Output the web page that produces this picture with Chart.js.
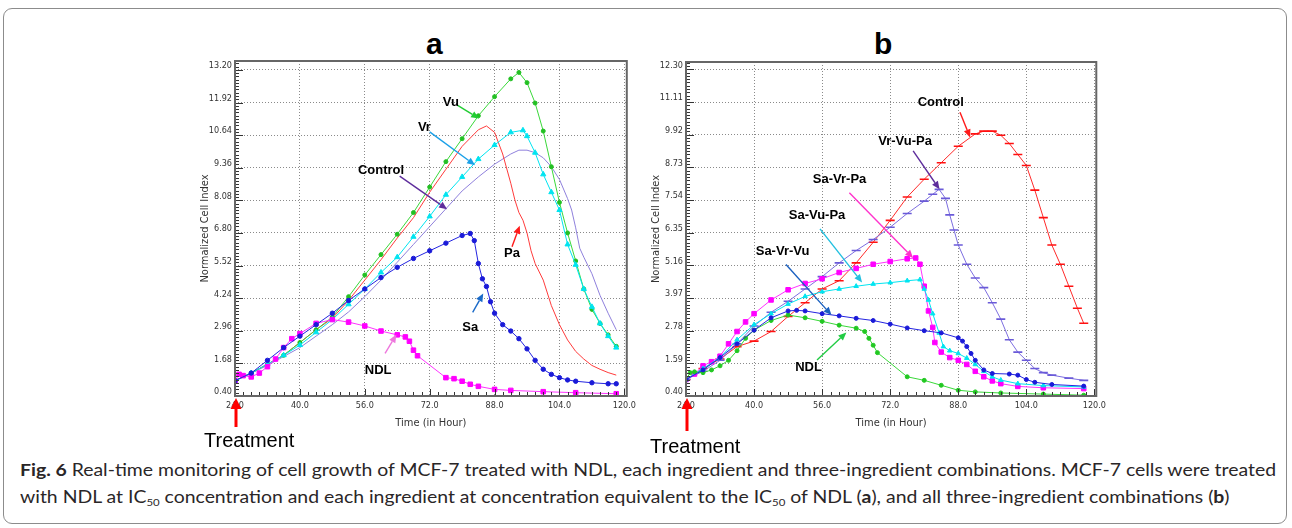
<!DOCTYPE html>
<html>
<head>
<meta charset="utf-8">
<script src="https://cdn.jsdelivr.net/npm/chart.js@4.4.1/dist/chart.umd.min.js"></script>
<style>
  body { margin: 0; width: 1292px; height: 528px; background: #fff; position: relative; overflow: hidden;
         font-family: "Liberation Sans", Arial, sans-serif; }
  .frame { position: absolute; left: 3px; top: 8px; width: 1284px; height: 516px;
           border: 1px solid #8c8c8c; border-radius: 9px; box-sizing: border-box; }
  .letter { position: absolute; top: 27px; font: bold 30px "Liberation Sans", Arial, sans-serif; color: #000; }
  canvas { position: absolute; }
  .treat { position: absolute; font: 20px "Liberation Sans", Arial, sans-serif; color: #000; line-height: 20px; }
  .caption { position: absolute; left: 20px; font-family: Lato, "Open Sans", sans-serif; font-size: 17px;
             color: #2a2627; white-space: nowrap; transform-origin: 0 50%; line-height: 20px; }
  .caption sub { font-size: 10px; vertical-align: -3px; line-height: 0; }
</style>
</head>
<body>
<div class="frame"></div>
<div class="letter" style="left:426px">a</div>
<div class="letter" style="left:874px">b</div>
<canvas id="panelA" width="470" height="400" style="left:170px; top:52px"></canvas>
<canvas id="panelB" width="490" height="400" style="left:620px; top:52px"></canvas>
<div class="treat" style="left:204px; top:430px">Treatment</div>
<div class="treat" style="left:650px; top:436px">Treatment</div>
<div class="caption" id="cap1" style="top:460px"><b>Fig. 6</b> Real-time monitoring of cell growth of MCF-7 treated with NDL, each ingredient and three-ingredient combinations. MCF-7 cells were treated</div>
<div class="caption" id="cap2" style="top:487px">with NDL at IC<sub>50</sub> concentration and each ingredient at concentration equivalent to the IC<sub>50</sub> of NDL (<b>a</b>), and all three-ingredient combinations (<b>b</b>)</div>

<script>
// ---------------- PANEL A DATA (hours after seeding, normalized cell index) ----------------
const aXTicks = [24, 40, 56, 72, 88, 104, 120];
const aYTicks = [0.40, 1.68, 2.96, 4.24, 5.52, 6.80, 8.08, 9.36, 10.64, 11.92, 13.20];

const aVuHours = [24, 28, 32, 36, 40, 44, 48, 52, 56, 60, 64, 68, 72, 76, 80, 84, 88, 92, 94, 96, 98, 100, 102, 104, 106, 108, 110, 112, 114, 116, 118];
const aVuIndex = [1.0, 1.3, 1.65, 2.0, 2.5, 3.0, 3.5, 4.3, 5.15, 5.95, 6.75, 7.6, 8.6, 9.6, 10.5, 11.4, 12.15, 12.85, 13.1, 12.7, 11.9, 10.8, 9.4, 8.0, 6.8, 5.7, 4.6, 3.8, 3.25, 2.8, 2.35];

const aVrHours = [24, 28, 32, 36, 40, 44, 48, 52, 56, 60, 64, 68, 72, 76, 80, 84, 88, 92, 95, 96, 98, 100, 102, 104, 106, 108, 110, 112, 114, 116, 118];
const aVrIndex = [1.0, 1.3, 1.65, 2.0, 2.4, 2.9, 3.4, 4.0, 4.6, 5.25, 5.85, 6.65, 7.45, 8.3, 9.0, 9.7, 10.25, 10.75, 10.83, 10.6, 9.95, 9.1, 8.4, 7.7, 6.35, 5.55, 4.6, 3.9, 3.25, 2.75, 2.3];

const aPaHours = [24, 28, 32, 36, 40, 44, 48, 52, 56, 60, 64, 68, 72, 76, 80, 84, 86, 88, 90, 92, 93, 94, 95, 96, 97, 98, 100, 102, 104, 106, 108, 110, 112, 114, 116, 118];
const aPaIndex = [1.0, 1.3, 1.65, 2.0, 2.5, 3.0, 3.45, 4.15, 4.95, 5.75, 6.6, 7.4, 8.4, 9.3, 10.2, 10.85, 11.0, 10.75, 9.9, 8.75, 8.1, 7.6, 7.3, 6.8, 6.1, 5.6, 4.95, 3.95, 3.2, 2.6, 2.15, 1.85, 1.6, 1.45, 1.32, 1.22];

const aControlHours = [24, 28, 32, 36, 40, 44, 48, 52, 56, 60, 64, 68, 72, 76, 80, 84, 88, 92, 94, 96, 98, 100, 102, 104, 106, 107, 108, 109, 110, 112, 114, 116, 118];
const aControlIndex = [1.0, 1.3, 1.6, 1.95, 2.3, 2.75, 3.2, 3.7, 4.3, 4.95, 5.65, 6.35, 7.05, 7.75, 8.45, 9.0, 9.5, 9.9, 10.05, 10.05, 9.95, 9.75, 9.4, 8.9, 8.15, 7.7, 7.0, 6.2, 5.85, 5.2, 4.35, 3.65, 3.0];

const aSaHours = [24, 28, 32, 36, 40, 44, 48, 52, 56, 60, 64, 68, 72, 76, 80, 82, 83, 84, 85, 86, 87, 88, 90, 92, 94, 96, 98, 100, 102, 104, 106, 108, 112, 116, 118];
const aSaIndex = [1.0, 1.3, 1.8, 2.3, 2.75, 3.2, 3.65, 4.15, 4.6, 5.05, 5.45, 5.8, 6.1, 6.4, 6.7, 6.78, 6.5, 5.6, 5.0, 4.7, 4.1, 3.65, 3.2, 2.95, 2.65, 2.25, 1.8, 1.45, 1.25, 1.12, 1.03, 0.98, 0.92, 0.88, 0.88];

const aNdlHours = [24, 25, 26, 28, 30, 32, 34, 36, 38, 40, 44, 48, 52, 56, 60, 64, 66, 67, 68, 69, 76, 78, 80, 82, 84, 88, 92, 100, 108, 118];
const aNdlIndex = [1.0, 1.25, 1.2, 1.15, 1.3, 1.55, 1.85, 2.3, 2.65, 2.85, 3.25, 3.4, 3.3, 3.15, 2.95, 2.8, 2.72, 2.55, 2.2, 1.98, 1.12, 1.08, 0.98, 0.86, 0.78, 0.66, 0.62, 0.57, 0.53, 0.49];

// ---------------- PANEL B DATA ----------------
const bXTicks = [24, 40, 56, 72, 88, 104, 120];
const bYTicks = [0.40, 1.59, 2.78, 3.97, 5.16, 6.35, 7.54, 8.73, 9.92, 11.11, 12.30];

const bControlHours = [24, 28, 32, 36, 40, 44, 48, 52, 56, 60, 64, 68, 72, 76, 80, 84, 88, 92, 94, 96, 98, 100, 102, 104, 106, 108, 110, 112, 114, 116, 117.5];
const bControlIndex = [1.0, 1.4, 1.75, 2.2, 2.4, 2.75, 3.3, 3.8, 4.3, 4.6, 5.25, 6.0, 6.8, 7.65, 8.3, 8.9, 9.5, 9.95, 10.05, 10.05, 9.9, 9.6, 9.2, 8.8, 7.9, 6.9, 5.9, 5.2, 4.4, 3.6, 3.05];

const bVrVuPaHours = [24, 28, 32, 36, 40, 44, 48, 52, 56, 60, 64, 68, 72, 76, 80, 82, 83.5, 85, 86, 87, 88, 90, 92, 94, 96, 98, 100, 102, 104, 106, 108, 110, 114, 117.5];
const bVrVuPaIndex = [1.0, 1.3, 1.7, 2.3, 2.95, 3.45, 3.85, 4.3, 4.75, 5.25, 5.7, 6.1, 6.55, 7.05, 7.5, 7.75, 7.93, 7.6, 7.0, 6.45, 5.9, 5.2, 4.7, 4.35, 3.8, 3.2, 2.45, 2.0, 1.7, 1.4, 1.25, 1.16, 1.05, 0.97];

const bSaVrPaHours = [24, 26, 28, 30, 32, 34, 36, 38, 40, 44, 48, 52, 56, 60, 64, 68, 72, 76, 78, 79, 80, 81, 82, 82.5, 84, 86, 88, 90, 92, 94, 96, 98, 102, 108, 117.5];
const bSaVrPaIndex = [1.0, 1.2, 1.5, 1.65, 1.85, 2.3, 2.75, 3.1, 3.4, 3.9, 4.27, 4.5, 4.67, 4.9, 5.05, 5.2, 5.3, 5.4, 5.43, 5.2, 4.4, 3.5, 2.9, 2.35, 2.0, 1.8, 1.7, 1.55, 1.3, 1.1, 0.95, 0.85, 0.75, 0.7, 0.67];

const bSaVuPaHours = [24, 28, 32, 36, 40, 44, 48, 52, 56, 60, 64, 68, 72, 76, 79, 80, 81, 82, 83.5, 84.5, 86, 88, 90, 92, 94, 96, 98, 102, 108, 117.5];
const bSaVuPaIndex = [1.0, 1.4, 1.8, 2.45, 3.0, 3.4, 3.75, 4.03, 4.2, 4.3, 4.4, 4.48, 4.53, 4.6, 4.64, 4.3, 3.9, 3.4, 2.7, 2.2, 2.05, 1.95, 1.78, 1.55, 1.3, 1.1, 0.98, 0.85, 0.78, 0.73];

const bSaVrVuHours = [24, 28, 32, 36, 40, 44, 48, 50, 52, 56, 60, 64, 68, 72, 76, 80, 84, 88, 89, 90, 91, 92, 94, 96, 100, 102, 104, 106, 110, 117.5];
const bSaVrVuIndex = [1.0, 1.35, 1.8, 2.3, 2.8, 3.25, 3.5, 3.52, 3.5, 3.4, 3.32, 3.23, 3.15, 3.02, 2.88, 2.78, 2.7, 2.52, 2.4, 2.2, 1.95, 1.7, 1.35, 1.22, 1.2, 1.16, 1.0, 0.9, 0.82, 0.76];

const bNdlHours = [24, 25, 26, 28, 30, 32, 34, 36, 38, 40, 44, 48, 52, 56, 60, 64, 66, 67, 68, 69, 76, 80, 84, 88, 92, 98, 108, 117.5];
const bNdlIndex = [1.0, 1.25, 1.28, 1.25, 1.35, 1.5, 1.7, 2.05, 2.5, 2.8, 3.15, 3.35, 3.25, 3.12, 2.98, 2.87, 2.75, 2.5, 2.25, 1.98, 1.1, 0.97, 0.79, 0.61, 0.55, 0.51, 0.47, 0.43];

// ---------------- ANNOTATIONS (label, where the label sits, arrow tail, arrow head) ----------------
const aNoteText  = ["Vu", "Vr", "Control", "Pa", "Sa", "NDL"];
const aNoteAt    = [[77.2, 11.93], [70.7, 10.96], [60.0, 9.27], [92.3, 5.98], [82.0, 3.11], [59.3, 1.41]];
const aNoteTail  = [[78.9, 11.81], [72.0, 10.77], [64.6, 9.03], [92.3, 6.26], [82.6, 3.68], [61.0, 2.07]];
const aNoteHead  = [[84.2, 11.29], [83.2, 9.46], [76.3, 7.73], [94.2, 7.08], [85.2, 4.42], [63.8, 2.81]];
const aNoteColor = ["#22cc33", "#1aa0e8", "#5e2d9c", "#ff1a1a", "#1a6ac8", "#ee77dd"];

const bNoteText  = ["Control", "Vr-Vu-Pa", "Sa-Vr-Pa", "Sa-Vu-Pa", "Sa-Vr-Vu", "NDL"];
const bNoteAt    = [[83.9, 11.11], [75.5, 9.66], [60.1, 8.30], [54.8, 6.99], [46.7, 5.67], [52.8, 1.44]];
const bNoteTail  = [[88.4, 10.74], [77.4, 9.33], [62.4, 7.81], [55.5, 6.49], [47.5, 5.19], [54.8, 1.71]];
const bNoteHead  = [[90.8, 9.82], [83.6, 7.93], [77.4, 5.43], [65.4, 4.54], [58.2, 3.35], [61.7, 2.71]];
const bNoteColor = ["#ff1a1a", "#5e2d9c", "#ff33cc", "#22c0e0", "#1a60c0", "#22cc44"];

// --------------------------------------------------
//  HELPERS
// --------------------------------------------------
const tickFont = { family: '"Liberation Sans Narrow", "DejaVu Sans Condensed", "Liberation Sans", Arial, sans-serif', size: 9 };

function series(label, hours, values, style) {
    return Object.assign({
        label: label,
        data: hours.map((h, i) => ({ x: h, y: values[i] })),
        borderWidth: 1,
        tension: 0,
        fill: false,
        pointBorderWidth: 1
    }, style);
}

function notes(text, at, tail, head, color) {
    return text.map((t, i) => ({ text: t, at: at[i], tail: tail[i], head: head[i], color: color[i] }));
}

function drawArrow(ctx, x1, y1, x2, y2, color, width, headLen, headHalf) {
    const ang = Math.atan2(y2 - y1, x2 - x1);
    const bx = x2 - headLen * Math.cos(ang), by = y2 - headLen * Math.sin(ang);
    ctx.strokeStyle = color;
    ctx.fillStyle = color;
    ctx.lineWidth = width;
    ctx.beginPath();
    ctx.moveTo(x1, y1);
    ctx.lineTo(bx, by);
    ctx.stroke();
    ctx.beginPath();
    ctx.moveTo(x2, y2);
    ctx.lineTo(bx + headHalf * Math.sin(ang), by - headHalf * Math.cos(ang));
    ctx.lineTo(bx - headHalf * Math.sin(ang), by + headHalf * Math.cos(ang));
    ctx.closePath();
    ctx.fill();
}

// frame, minor ticks, labels with arrows, treatment arrow
const rtcaDecor = {
    id: "rtcaDecor",
    afterDatasetsDraw(chart, args, opts) {
        const { ctx, chartArea: area, scales: { x, y } } = chart;
        ctx.save();

        // minor ticks along the axes
        ctx.strokeStyle = "#333";
        ctx.lineWidth = 1;
        ctx.beginPath();
        for (let k = 0; ; k++) {
            const t = x.min + k * 2;
            if (t > x.max) break;
            const px = Math.round(x.getPixelForValue(t)) + 0.5;
            ctx.moveTo(px, area.bottom);
            ctx.lineTo(px, area.bottom - (k % 8 === 0 ? 7 : 4));
        }
        const yStep = (opts.yTicks[1] - opts.yTicks[0]) / 10;
        for (let k = 0; ; k++) {
            const v = opts.yTicks[0] + k * yStep;
            if (v > y.max) break;
            const py = Math.round(y.getPixelForValue(v)) + 0.5;
            ctx.moveTo(area.left, py);
            ctx.lineTo(area.left + (k % 10 === 0 ? 8 : 4), py);
        }
        ctx.stroke();

        // plot frame
        ctx.strokeStyle = "#666";
        ctx.lineWidth = 2;
        ctx.strokeRect(area.left, area.top, area.right - area.left, area.bottom - area.top);

        // annotations
        ctx.font = 'bold 13px "Liberation Sans", Arial, sans-serif';
        ctx.textAlign = "center";
        ctx.textBaseline = "middle";
        opts.notes.forEach(n => {
            drawArrow(ctx,
                x.getPixelForValue(n.tail[0]), y.getPixelForValue(n.tail[1]),
                x.getPixelForValue(n.head[0]), y.getPixelForValue(n.head[1]),
                n.color, 1.4, 8, 3.5);
            ctx.fillStyle = "#000";
            ctx.fillText(n.text, x.getPixelForValue(n.at[0]), y.getPixelForValue(n.at[1]));
        });

        // treatment arrow under the first time point
        const tx = x.getPixelForValue(x.min) + 1;
        drawArrow(ctx, tx, area.bottom + opts.treatLen, tx, area.bottom + 2, "#ff0000", 3, 11, 5.5);

        ctx.restore();
    }
};

function buildPanel(canvasId, datasets, cfg) {
    return new Chart(document.getElementById(canvasId), {
        type: "line",
        data: { datasets: datasets },
        plugins: [rtcaDecor],
        options: {
            responsive: false,
            animation: false,
            events: [],
            layout: { padding: cfg.padding },
            plugins: {
                legend: { display: false },
                tooltip: { enabled: false },
                rtcaDecor: { yTicks: cfg.yTicks, notes: cfg.notes, treatLen: cfg.treatLen }
            },
            scales: {
                x: {
                    type: "linear",
                    min: cfg.xMin,
                    max: cfg.xMax,
                    afterBuildTicks: s => { s.ticks = cfg.xTicks.map(v => ({ value: v })); },
                    afterFit: s => { s.height = cfg.xAxisHeight; },
                    ticks: { autoSkip: false, maxRotation: 0, padding: 4, color: "#333", font: tickFont,
                             callback: v => v.toFixed(1) },
                    grid: { color: "#8a8a8a", drawTicks: false, lineWidth: 1 },
                    border: { display: false, dash: [1, 2] },
                    title: { display: true, text: "Time (in Hour)", color: "#333",
                             font: Object.assign({}, tickFont, { size: 11 }), padding: { top: 0, bottom: 4 } }
                },
                y: {
                    type: "linear",
                    min: cfg.yMin,
                    max: cfg.yMax,
                    afterBuildTicks: s => { s.ticks = cfg.yTicks.map(v => ({ value: v })); },
                    afterFit: s => { s.width = cfg.yAxisWidth; },
                    ticks: { autoSkip: false, padding: 3, color: "#333", font: tickFont, labelOffset: -4,
                             callback: v => v.toFixed(2) },
                    grid: { color: "#8a8a8a", drawTicks: false, lineWidth: 1 },
                    border: { display: false, dash: [1, 2] },
                    title: { display: true, text: "Normalized Cell Index", color: "#333",
                             font: Object.assign({}, tickFont, { size: 11 }), padding: { top: 4, bottom: 0 } }
                }
            }
        }
    });
}

// --------------------------------------------------
//  PANEL A
// --------------------------------------------------
buildPanel("panelA", [
    series("Sa", aSaHours, aSaIndex, { borderColor: "#2424e0", pointStyle: "circle", pointRadius: 2.2,
        pointBackgroundColor: "#1a1ad8", pointBorderColor: "#1a1ad8" }),
    series("NDL", aNdlHours, aNdlIndex, { borderColor: "#ff33ff", pointStyle: "rect", pointRadius: 3.2,
        pointBackgroundColor: "#ff00ff", pointBorderColor: "#ff00ff" }),
    series("Vr", aVrHours, aVrIndex, { borderColor: "#00e4f0", pointStyle: "triangle", pointRadius: 3,
        pointBackgroundColor: "#00e4f0", pointBorderColor: "#00e4f0" }),
    series("Vu", aVuHours, aVuIndex, { borderColor: "#3ad83a", pointStyle: "circle", pointRadius: 2,
        pointBackgroundColor: "#22c022", pointBorderColor: "#22c022" }),
    series("Pa", aPaHours, aPaIndex, { borderColor: "#ff3b3b", pointRadius: 0 }),
    series("Control", aControlHours, aControlIndex, { borderColor: "#8f80dc", pointRadius: 0 })
], {
    xMin: 24, xMax: 120.6, yMin: 0.40, yMax: 13.55,
    xTicks: aXTicks, yTicks: aYTicks,
    padding: { left: 25, right: 9, top: 9, bottom: 18 },
    yAxisWidth: 40, xAxisHeight: 38, treatLen: 31,
    notes: notes(aNoteText, aNoteAt, aNoteTail, aNoteHead, aNoteColor)
});

// --------------------------------------------------
//  PANEL B
// --------------------------------------------------
buildPanel("panelB", [
    series("Sa-Vr-Vu", bSaVrVuHours, bSaVrVuIndex, { borderColor: "#2424e0", pointStyle: "circle", pointRadius: 2,
        pointBackgroundColor: "#1a1ad8", pointBorderColor: "#1a1ad8" }),
    series("NDL", bNdlHours, bNdlIndex, { borderColor: "#3ad83a", pointStyle: "circle", pointRadius: 2,
        pointBackgroundColor: "#22c822", pointBorderColor: "#22c822" }),
    series("Sa-Vu-Pa", bSaVuPaHours, bSaVuPaIndex, { borderColor: "#00e4f0", pointStyle: "triangle", pointRadius: 2.6,
        pointBackgroundColor: "#00e4f0", pointBorderColor: "#00e4f0" }),
    series("Sa-Vr-Pa", bSaVrPaHours, bSaVrPaIndex, { borderColor: "#ff33ff", pointStyle: "rect", pointRadius: 3.2,
        pointBackgroundColor: "#ff00ff", pointBorderColor: "#ff00ff" }),
    series("Vr-Vu-Pa", bVrVuPaHours, bVrVuPaIndex, { borderColor: "#7d6ee0", pointStyle: "line", pointRadius: 4.5,
        pointBorderWidth: 1.6, pointBorderColor: "#6a5ad8" }),
    series("Control", bControlHours, bControlIndex, { borderColor: "#ff2a2a", pointStyle: "line", pointRadius: 4.5,
        pointBorderWidth: 1.6, pointBorderColor: "#ff1010" })
], {
    xMin: 24, xMax: 120.45, yMin: 0.40, yMax: 12.57,
    xTicks: bXTicks, yTicks: bYTicks,
    padding: { left: 26, right: 8, top: 10, bottom: 18 },
    yAxisWidth: 40, xAxisHeight: 38, treatLen: 35,
    notes: notes(bNoteText, bNoteAt, bNoteTail, bNoteHead, bNoteColor)
});

// --------------------------------------------------
//  CAPTION: squeeze to the reference line width
// --------------------------------------------------
const cap1 = document.getElementById("cap1");
const cap2 = document.getElementById("cap2");
const squeeze = 1256 / cap1.getBoundingClientRect().width;
cap1.style.transform = "scaleX(" + squeeze + ")";
cap2.style.transform = "scaleX(" + squeeze + ")";
</script>
</body>
</html>
